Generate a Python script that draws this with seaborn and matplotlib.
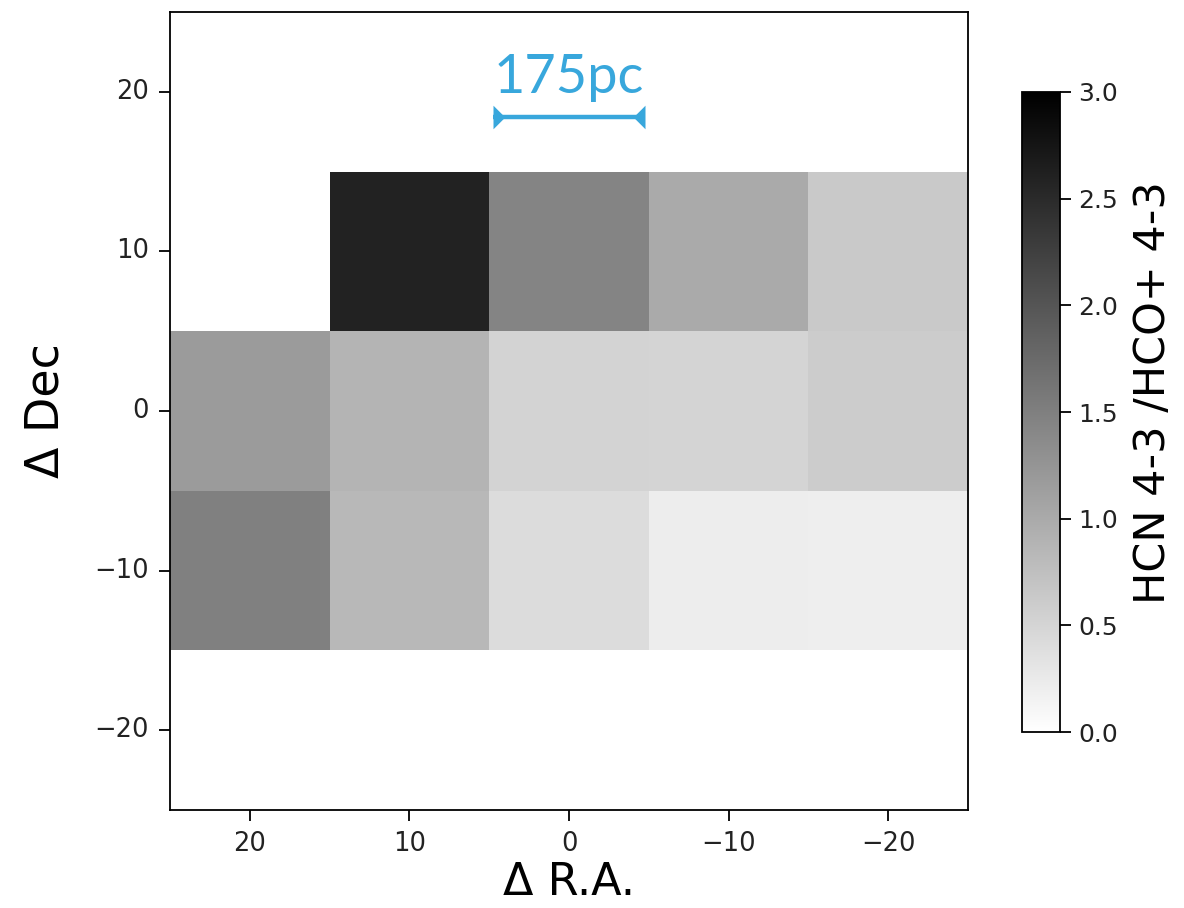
import numpy as np
import pandas as pd
import matplotlib
matplotlib.use("Agg")
import matplotlib.pyplot as plt
import seaborn as sns

# Offsets (arcsec)
ra_labels = [20, 10, 0, -10, -20]
dec_labels = [20, 10, 0, -10, -20]

# HCN 4-3 / HCO+ 4-3 ratios, rows = Dec (top to bottom), cols = RA (left to right)
row_dec20 = [np.nan, np.nan, np.nan, np.nan, np.nan]
row_dec10 = [np.nan, 2.60, 1.45, 1.00, 0.64]
row_dec0 = [1.18, 0.88, 0.52, 0.51, 0.60]
row_decm10 = [1.49, 0.84, 0.42, 0.22, 0.21]
row_decm20 = [np.nan, np.nan, np.nan, np.nan, np.nan]

scale_text = "175pc"
scale_len = 9.5  # arcsec
vmin, vmax = 0.0, 3.0
cbar_ticks = [0.0, 0.5, 1.0, 1.5, 2.0, 2.5, 3.0]

def fmt(v):
    return str(v).replace("-", "\u2212")

df = pd.DataFrame([row_dec20, row_dec10, row_dec0, row_decm10, row_decm20],
                  index=[fmt(d) for d in dec_labels],
                  columns=[fmt(r) for r in ra_labels])

fig = plt.figure(figsize=(11.84, 9.08), dpi=100)
ax = fig.add_axes([0.1436, 0.1079, 0.674, 0.8789])
cax = fig.add_axes([0.8632, 0.1938, 0.0321, 0.7049])

sns.heatmap(df, ax=ax, cbar_ax=cax, cmap="gray_r", vmin=vmin, vmax=vmax,
            square=True, linewidths=0)

for s in ax.spines.values():
    s.set_visible(True)
    s.set_linewidth(1.3)
    s.set_color("black")
ax.tick_params(axis="both", length=8, width=1.3, labelsize=18.5, pad=7, colors="black",
               labelcolor="#222222")
ax.set_xticklabels(df.columns, rotation=0)
ax.set_yticklabels(df.index, rotation=0)
ax.set_xlabel("\u0394 R.A.", fontsize=32, labelpad=3)
ax.set_ylabel("\u0394 Dec", fontsize=33, labelpad=19)

cb = ax.collections[0].colorbar
cb.outline.set_visible(True)
cb.outline.set_linewidth(1.3)
cb.outline.set_edgecolor("black")
cb.set_ticks(cbar_ticks)
cb.set_ticklabels([f"{t:.1f}" for t in cbar_ticks])
cb.ax.tick_params(labelsize=18, length=8, width=1.3, pad=5, labelcolor="#222222")
cb.set_label("HCN 4-3 /HCO+ 4-3", fontsize=31, labelpad=10, y=0.53)

# scale bar: convert arcsec offsets to heatmap cell coordinates
def to_x(ra):
    return (25 - ra) / 10.0

def to_y(dec):
    return (25 - dec) / 10.0

blue = "#38A7DC"
bar_dec = 18.4
x0, x1 = to_x(scale_len / 2), to_x(-scale_len / 2)
yb = to_y(bar_dec)
tri_right = [(0, 1), (0, -1), (1, 0), (0, 1)]
tri_left = [(0, 1), (0, -1), (-1, 0), (0, 1)]
ax.plot([x0, x1], [yb, yb], color=blue, lw=3.2, solid_capstyle="butt", clip_on=False)
ax.plot([x0], [yb], marker=tri_right, color=blue, markersize=17, mew=0, clip_on=False)
ax.plot([x1], [yb], marker=tri_left, color=blue, markersize=17, mew=0, clip_on=False)
ax.text(to_x(0), to_y(19.9), scale_text, color=blue, fontsize=39, family="Lato",
        ha="center", va="baseline")

fig.savefig("out.png", dpi=100)
